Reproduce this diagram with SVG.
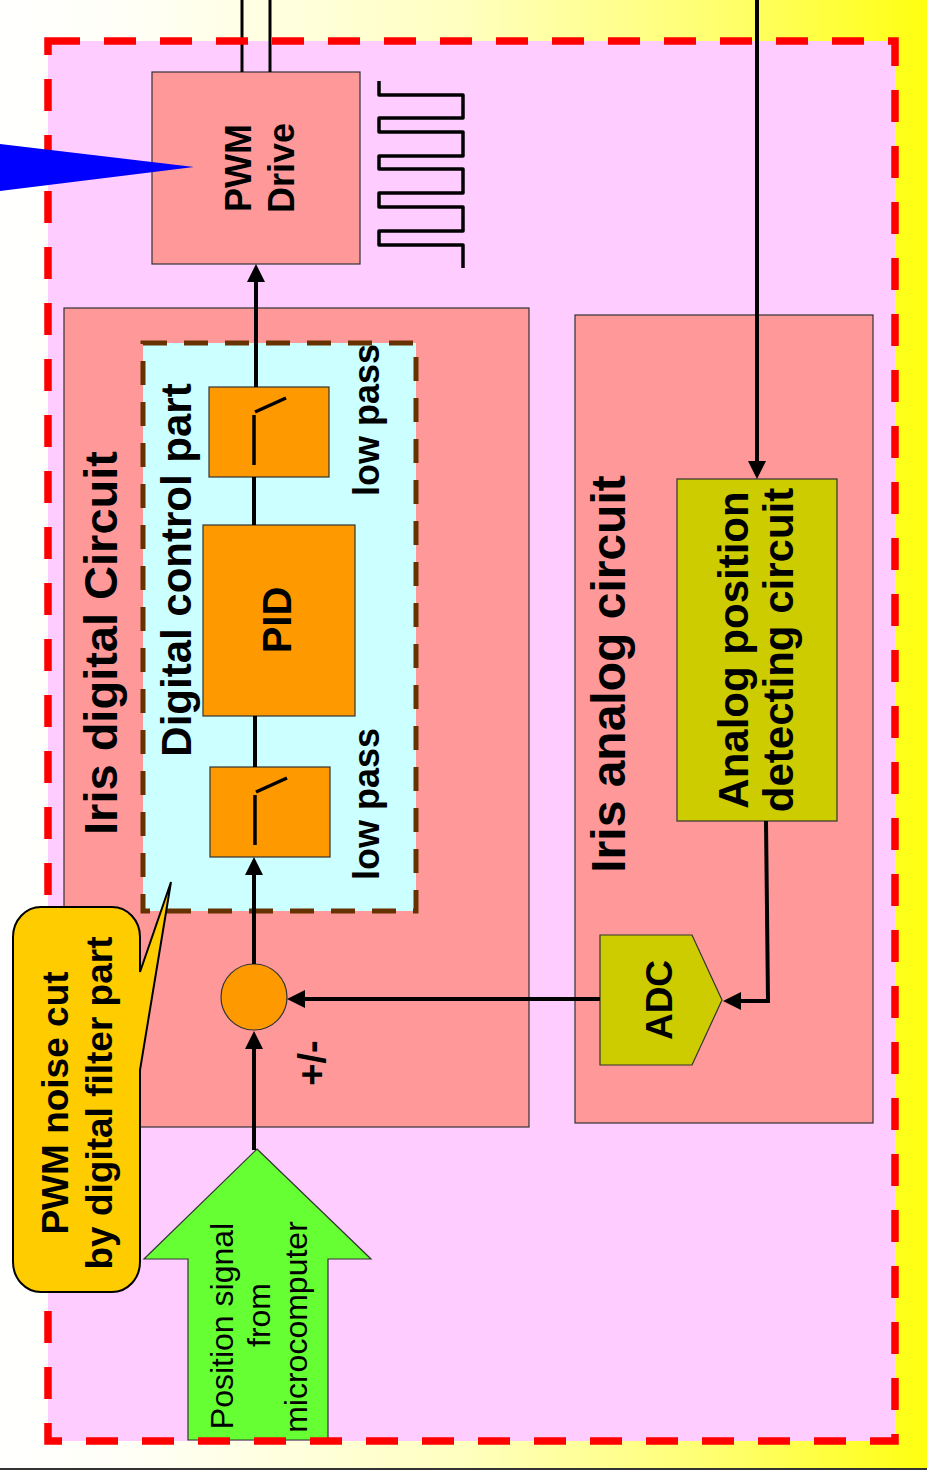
<svg xmlns="http://www.w3.org/2000/svg" width="927" height="1472" viewBox="0 0 927 1472">
<defs>
<linearGradient id="bg" x1="0" y1="0" x2="1" y2="0">
<stop offset="0" stop-color="#FFFFFF"/>
<stop offset="0.15" stop-color="#FFFFF6"/>
<stop offset="0.5" stop-color="#FFFFC0"/>
<stop offset="0.8" stop-color="#FFFF66"/>
<stop offset="1" stop-color="#FFFF10"/>
</linearGradient>
<marker id="arr" viewBox="0 0 18 18" refX="12" refY="9" markerWidth="18" markerHeight="18" markerUnits="userSpaceOnUse" orient="auto">
<path d="M0,0 L18,9 L0,18 z" fill="#000"/>
</marker>
<style>
.box{stroke:#333;stroke-width:1.2}
.salmon{fill:#FF9999}
.orange{fill:#FF9900}
.olive{fill:#CCCC00}
.t{font-family:"Liberation Sans",Arial,sans-serif;fill:#000;text-anchor:middle}
.b{font-weight:bold}
.conn{stroke:#000;stroke-width:4;fill:none}
.thin{stroke:#000;stroke-width:3;fill:none}
.sym{stroke:#000;stroke-width:3.5;fill:none}
</style>
</defs>

<g id="background">
<rect x="0" y="0" width="927" height="1468" fill="url(#bg)"/>
<rect x="0" y="1468" width="927" height="4" fill="#FFFFFF"/>
<line x1="0" y1="1469" x2="927" y2="1469" stroke="#333" stroke-width="2"/>
<rect x="48" y="41" width="847" height="1400" fill="#FFCCFF"/>
</g>

<g id="pwm-drive">
<rect class="box salmon" x="152" y="72" width="208" height="192"/>
<text class="t b" font-size="36" transform="translate(251,168) rotate(-90)"><tspan x="0" y="0">PWM</tspan><tspan x="0" dy="43">Drive</tspan></text>
</g>

<g id="pwm-wave">
<path class="sym" stroke-linejoin="round" d="M379,81 V95 H463 V118 H379 V132 H463 V156 H379 V169 H463 V193 H379 V207 H463 V231 H379 V245 H463 V268"/>
</g>

<g id="iris-digital-circuit">
<rect class="box salmon" x="64" y="308" width="465" height="819"/>
<text class="t b" font-size="47" transform="translate(117,643) rotate(-90)">Iris digital Circuit</text>
</g>

<g id="digital-control-part">
<rect x="143" y="343" width="273" height="568" fill="#CCFFFF" stroke="#663300" stroke-width="5" stroke-dasharray="24,17"/>
<text class="t b" font-size="42" transform="translate(191,570) rotate(-90)">Digital control part</text>
</g>

<g id="low-pass-upper">
<rect class="box orange" x="209" y="387" width="120" height="90"/>
<line class="sym" x1="254" y1="415" x2="254" y2="465"/>
<line class="sym" x1="255" y1="412" x2="286" y2="398"/>
<text class="t b" font-size="36" transform="translate(379,420) rotate(-90)">low pass</text>
</g>

<g id="pid">
<rect class="box orange" x="203" y="525" width="152" height="191"/>
<text class="t b" font-size="40" transform="translate(291,620) rotate(-90)">PID</text>
</g>

<g id="low-pass-lower">
<rect class="box orange" x="210" y="767" width="120" height="90"/>
<line class="sym" x1="255" y1="795" x2="255" y2="845"/>
<line class="sym" x1="256" y1="792" x2="287" y2="778"/>
<text class="t b" font-size="36" transform="translate(379,804) rotate(-90)">low pass</text>
</g>

<g id="summing-junction">
<circle class="box orange" cx="254" cy="997" r="33"/>
<text class="t b" font-size="38" transform="translate(325,1063) rotate(-90)">+/-</text>
</g>

<g id="iris-analog-circuit">
<rect class="box salmon" x="575" y="315" width="298" height="808"/>
<text class="t b" font-size="48" transform="translate(625,674) rotate(-90)">Iris analog circuit</text>
</g>

<g id="analog-position">
<rect class="box olive" x="677" y="479" width="160" height="342"/>
<text class="t b" font-size="42" transform="translate(748,650) rotate(-90)"><tspan x="0" y="0">Analog position</tspan><tspan x="0" dy="45">detecting circuit</tspan></text>
</g>

<g id="adc">
<polygon class="box olive" points="600,935 692,935 722,1000 692,1065 600,1065"/>
<text class="t b" font-size="37" transform="translate(672,1000) rotate(-90)">ADC</text>
</g>

<g id="position-signal">
<polygon points="257,1149 371,1259 328,1259 328,1440 188,1440 188,1259 144,1259" fill="#66FF33" stroke="#333" stroke-width="1.2"/>
<text class="t" font-size="32" transform="translate(233,1326) rotate(-90)">Position signal</text>
<text class="t" font-size="32" transform="translate(270,1315) rotate(-90)">from</text>
<text class="t" font-size="32" transform="translate(307,1327) rotate(-90)">microcomputer</text>
</g>

<g id="connectors">
<line class="thin" x1="242" y1="0" x2="242" y2="72"/>
<line class="thin" x1="270" y1="0" x2="270" y2="72"/>
<line class="conn" x1="757" y1="0" x2="757" y2="473" marker-end="url(#arr)"/>
<line class="conn" x1="256" y1="387" x2="256" y2="270" marker-end="url(#arr)"/>
<line class="conn" x1="254" y1="477" x2="254" y2="525"/>
<line class="conn" x1="255" y1="716" x2="255" y2="767"/>
<line class="conn" x1="254" y1="964" x2="254" y2="863" marker-end="url(#arr)"/>
<line class="conn" x1="254" y1="1150" x2="254" y2="1037" marker-end="url(#arr)"/>
<line class="conn" x1="600" y1="999" x2="293" y2="999" marker-end="url(#arr)"/>
<polyline class="conn" points="766,821 768,1001 729,1001" marker-end="url(#arr)"/>
</g>

<g id="frame">
<rect x="48" y="41" width="847" height="1400" fill="none" stroke="#FF0000" stroke-width="7.5" stroke-dasharray="32,24"/>
</g>

<g id="callout">
<path d="M41,907 L112,907 A28,30 0 0 1 140,937 L140,972 L171,882 L140,1070 L140,1262 A28,30 0 0 1 112,1292 L41,1292 A28,30 0 0 1 13,1262 L13,937 A28,30 0 0 1 41,907 Z" fill="#FFCC00" stroke="#000" stroke-width="2"/>
<text class="t b" font-size="37" transform="translate(68,1103) rotate(-90)"><tspan x="0" y="0">PWM noise cut</tspan><tspan x="0" dy="44">by digital filter part</tspan></text>
</g>

<g id="pointer">
<polygon points="0,144 194,167 0,191" fill="#0000FF"/>
</g>
</svg>
